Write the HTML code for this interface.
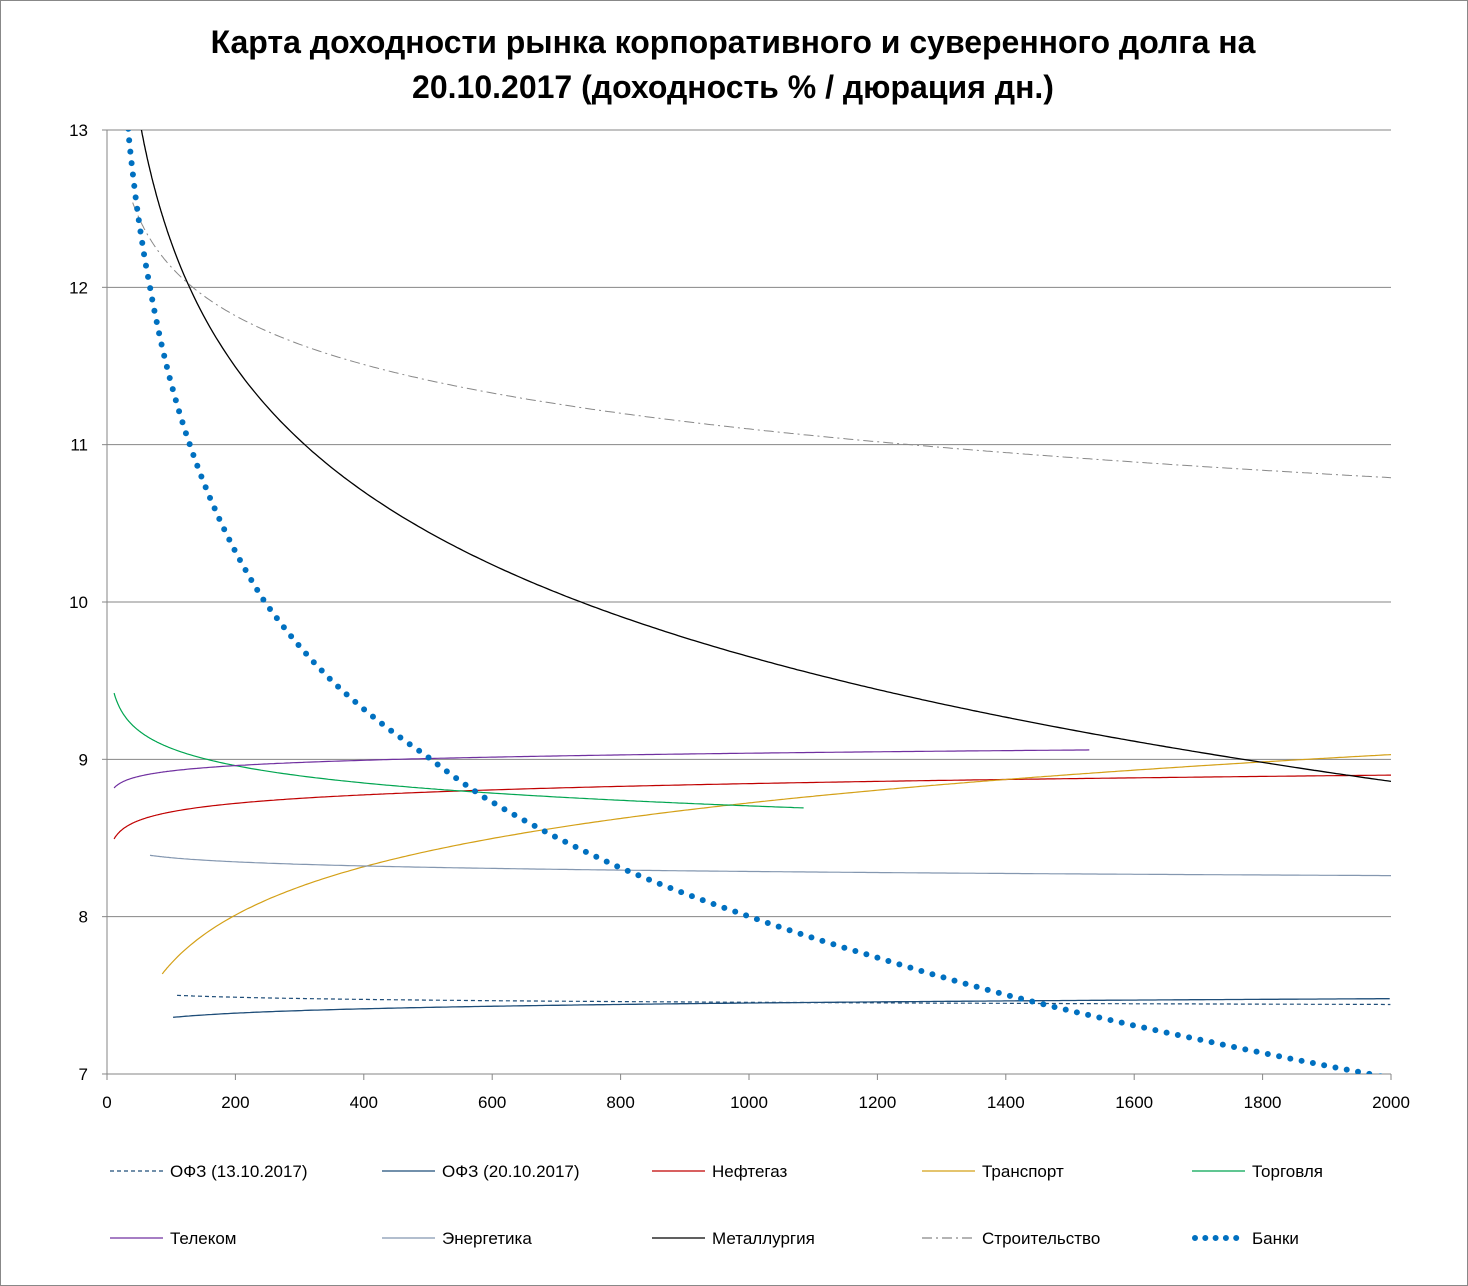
<!DOCTYPE html>
<html><head><meta charset="utf-8"><style>
html,body{margin:0;padding:0;background:#fff}
svg{display:block}
text{font-family:"Liberation Sans","DejaVu Sans",sans-serif}
</style></head><body>
<svg id="s" width="1468" height="1286" xmlns="http://www.w3.org/2000/svg">
<rect x="0.5" y="0.5" width="1467" height="1285" fill="#fff" stroke="#888"/>
<text x="733" y="53" font-size="32" font-weight="bold" text-anchor="middle">Карта доходности рынка корпоративного и суверенного долга на</text>
<text x="733" y="98" font-size="32" font-weight="bold" text-anchor="middle">20.10.2017 (доходность % / дюрация дн.)</text>
<defs><clipPath id="c"><rect x="107" y="130" width="1284" height="944"/></clipPath></defs>
<g id="grid"></g>
<g id="series" clip-path="url(#c)"></g>
<g id="leg"></g>
</svg>
<script>
var s=document.getElementById('s'),NS='http://www.w3.org/2000/svg';
function X(d){return 107+d*0.642}
function Y(v){return 130+(13-v)*157.33}
function el(t,a,p,txt){var e=document.createElementNS(NS,t);for(var k in a)e.setAttribute(k,a[k]);if(txt!=null)e.textContent=txt;(p||s).appendChild(e);return e}
var g=document.getElementById('grid');
for(var v=7;v<=13;v++){var y=Y(v);
 if(v>7)el('line',{x1:107,x2:1391,y1:y,y2:y,stroke:'#868686','stroke-width':1},g);
 el('line',{x1:102,x2:107,y1:y,y2:y,stroke:'#868686'},g);
 el('text',{x:88,y:y+6,'font-size':17,'text-anchor':'end'},g,v);}
el('line',{x1:107,x2:107,y1:130,y2:1074,stroke:'#868686'},g);
el('line',{x1:107,x2:1391,y1:1074,y2:1074,stroke:'#868686'},g);
for(var d=0;d<=2000;d+=200){var x=X(d);
 el('line',{x1:x,x2:x,y1:1074,y2:1080,stroke:'#868686'},g);
 el('text',{x:x,y:1108,'font-size':17,'text-anchor':'middle'},g,d);}
var sg=document.getElementById('series');
function logc(d0,d1,f){var p='';for(var d=d0;d<=d1;d+=(d<100?1:5)){p+=(p?'L':'M')+X(d).toFixed(1)+','+Y(f(d)).toFixed(1)}return p}
function add(p,st){var a={d:p,fill:'none'};for(var k in st)a[k]=st[k];el('path',a,sg)}
add(logc(109,2000,function(d){return 7.5-0.02*Math.log(d/109)}),{stroke:'#1f4e79','stroke-width':1.2,'stroke-dasharray':'4 3'});
add(logc(103,2000,function(d){return 7.36+0.04*Math.log(d/103)}),{stroke:'#1f4e79','stroke-width':1.3});
add(logc(11,2000,function(d){return 8.72+0.078*Math.log(d/200)}),{stroke:'#c00000','stroke-width':1.2});
add(logc(86,2000,function(d){return 8.01+0.443*Math.log(d/200)}),{stroke:'#d4a017','stroke-width':1.2});
add(logc(11,1089,function(d){return 8.96-0.159*Math.log(d/200)}),{stroke:'#00a550','stroke-width':1.2});
add(logc(11,1530,function(d){return 8.96+0.049*Math.log(d/200)}),{stroke:'#7030a0','stroke-width':1.2});
add(logc(67,2000,function(d){return 8.39-0.038*Math.log(d/67)}),{stroke:'#8497b0','stroke-width':1.2});
add(logc(50,2000,function(d){return 11.03-1.144*Math.log(d/300)}),{stroke:'#000','stroke-width':1.3});
add(logc(40,2000,function(d){return 11.1-0.447*Math.log(d/1000)}),{stroke:'#888','stroke-width':1,'stroke-dasharray':'10 4 2 4'});
var bp=[[30,13.3],[33,13],[67,12],[129,11],[246,10],[350,9.5],[495,9.03],[583,8.77],[800,8.31],[994,8.01],[1200,7.74],[1403,7.5],[1700,7.22],[1967,7.0],[2000,6.97]];
function lin(d){for(var i=0;i<bp.length-1;i++){if(d<=bp[i+1][0]){var a=bp[i],b=bp[i+1],t=(Math.log(d)-Math.log(a[0]))/(Math.log(b[0])-Math.log(a[0]));return a[1]+t*(b[1]-a[1])}}return bp[bp.length-1][1]}
var p='';for(var d=30;d<=2000;d+=2){p+=(p?'L':'M')+X(d).toFixed(1)+','+Y(lin(d)).toFixed(1)}
add(p,{stroke:'#0070c0','stroke-width':6,'stroke-linecap':'round','stroke-dasharray':'0 11.5'});
var L=document.getElementById('leg');
var items=[['ОФЗ (13.10.2017)',{stroke:'#1f4e79','stroke-dasharray':'4 3'}],['ОФЗ (20.10.2017)',{stroke:'#1f4e79'}],['Нефтегаз',{stroke:'#c00000'}],['Транспорт',{stroke:'#d4a017'}],['Торговля',{stroke:'#00a550'}],
['Телеком',{stroke:'#7030a0'}],['Энергетика',{stroke:'#8497b0'}],['Металлургия',{stroke:'#000'}],['Строительство',{stroke:'#888','stroke-dasharray':'10 4 2 4'}],['Банки',{stroke:'#0070c0','stroke-width':6,'stroke-linecap':'round','stroke-dasharray':'0 10.3'}]];
var cols=[110,382,652,922,1192];
items.forEach(function(it,i){var c=cols[i%5],y=i<5?1171:1238;
 var a={x1:c+(i==9?3:0),x2:c+53,y1:y,y2:y,'stroke-width':1.2};for(var k in it[1])a[k]=it[1][k];el('line',a,L);
 el('text',{x:c+60,y:y+6,'font-size':17},L,it[0]);});
</script>
</body></html>
